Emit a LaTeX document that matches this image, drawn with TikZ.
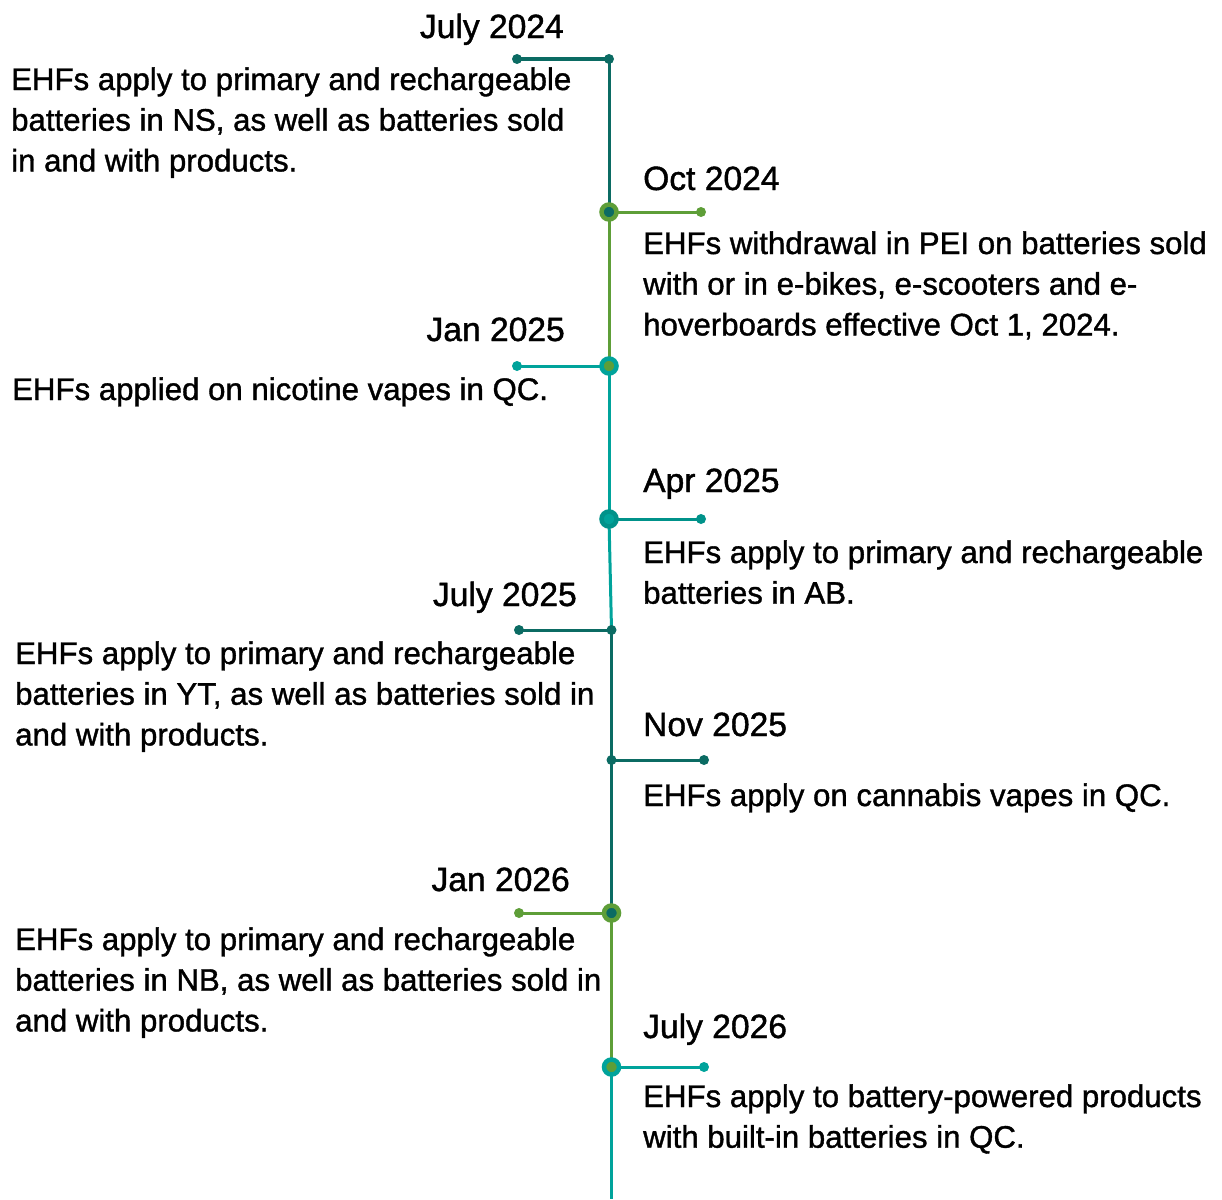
\documentclass[tikz,border=0pt]{standalone}
\usepackage{fontspec}
\setmainfont{Liberation Sans}
\newfontfamily\medfont{Liberation Sans}[FakeBold=1.2]
\definecolor{dteal}{HTML}{0B6B63}
\definecolor{lgreen}{HTML}{5E9E38}
\definecolor{teal}{HTML}{00A39B}
\definecolor{mteal}{HTML}{00928A}
\tikzset{
  body/.style={inner sep=0pt, align=left, font=\medfont\fontsize{31.2}{40.7}\selectfont, text=black},
  datel/.style={inner sep=0pt, font=\medfont\fontsize{33.6}{40}\selectfont, text=black},
  ln/.style={line width=3pt},
  sdot/.style={circle, inner sep=0pt, minimum size=10pt, fill=#1},
  bdot/.style={circle, inner sep=0pt, minimum size=15pt, line width=4.5pt, fill=#1},
}
\begin{document}
\begin{tikzpicture}[x=1pt,y=-1pt]
\useasboundingbox (0,0) rectangle (1222,1199);
% spine points
\coordinate (s0) at (609,59);
\coordinate (s1) at (609,212);
\coordinate (s2) at (609,366);
\coordinate (s3) at (609,519);
\coordinate (s4) at (611.5,630);
\coordinate (s5) at (611.5,760);
\coordinate (s6) at (611.5,913);
\coordinate (s7) at (611.5,1067);
\coordinate (s8) at (611.5,1199);
% branch ends
\coordinate (e0) at (517,59);
\coordinate (e1) at (701,212);
\coordinate (e2) at (517,366);
\coordinate (e3) at (701,519);
\coordinate (e4) at (519,630);
\coordinate (e5) at (704,760);
\coordinate (e6) at (519,913);
\coordinate (e7) at (704,1067);
% spine segments
\draw[ln, dteal] (s0) -- (s1);
\draw[ln, lgreen] (s1) -- (s2);
\draw[ln, teal] (s2) -- (s3);
\draw[ln, teal] (s3) -- (s4);
\draw[ln, dteal] (s4) -- (s5);
\draw[ln, dteal] (s5) -- (s6);
\draw[ln, lgreen] (s6) -- (s7);
\draw[ln, teal] (s7) -- (s8);
% branches
\draw[ln, dteal] (s0) -- (e0);
\draw[ln, lgreen] (s1) -- (e1);
\draw[ln, teal] (s2) -- (e2);
\draw[ln, mteal] (s3) -- (e3);
\draw[ln, dteal] (s4) -- (e4);
\draw[ln, dteal] (s5) -- (e5);
\draw[ln, lgreen] (s6) -- (e6);
\draw[ln, teal] (s7) -- (e7);
% end dots
\node[sdot=dteal] (d0) at (e0) {};
\node[sdot=dteal] (m0) at (s0) {};
\node[sdot=lgreen] (d1) at (e1) {};
\node[sdot=teal] (d2) at (e2) {};
\node[sdot=mteal] (d3) at (e3) {};
\node[sdot=dteal] (d4) at (e4) {};
\node[sdot=dteal] (m4) at (s4) {};
\node[sdot=dteal] (d5) at (e5) {};
\node[sdot=dteal] (m5) at (s5) {};
\node[sdot=lgreen] (d6) at (e6) {};
\node[sdot=teal] (d7) at (e7) {};
% big dots
\node[bdot=dteal, draw=lgreen] (m1) at (s1) {};
\node[bdot=lgreen, draw=teal] (m2) at (s2) {};
\node[bdot=teal, draw=mteal] (m3) at (s3) {};
\node[bdot=dteal, draw=lgreen] (m6) at (s6) {};
\node[bdot=lgreen, draw=teal] (m7) at (s7) {};
% date labels
\node[datel, anchor=base east] (l0) at (564,38) {July 2024};
\node[datel, anchor=base west] (l1) at (643,190) {Oct 2024};
\node[datel, anchor=base east] (l2) at (565,341) {Jan 2025};
\node[datel, anchor=base west] (l3) at (643,492) {Apr 2025};
\node[datel, anchor=base east] (l4) at (577,606) {July 2025};
\node[datel, anchor=base west] (l5) at (643,736) {Nov 2025};
\node[datel, anchor=base east] (l6) at (570,891) {Jan 2026};
\node[datel, anchor=base west] (l7) at (643,1038) {July 2026};
% texts (base anchor = baseline of last line)
\node[body, anchor=base west] (t0) at (11,171.4) {EHFs apply to primary and rechargeable\\batteries in NS, as well as batteries sold\\in and with products.};
\node[body, anchor=base west] (t1) at (643,335.4) {EHFs withdrawal in PEI on batteries sold\\with or in e-bikes, e-scooters and e-\\hoverboards effective Oct 1, 2024.};
\node[body, anchor=base west] (t2) at (12,400) {EHFs applied on nicotine vapes in QC.};
\node[body, anchor=base west] (t3) at (643,603.7) {EHFs apply to primary and rechargeable\\batteries in AB.};
\node[body, anchor=base west] (t4) at (15,745.4) {EHFs apply to primary and rechargeable\\batteries in YT, as well as batteries sold in\\and with products.};
\node[body, anchor=base west] (t5) at (643,806) {EHFs apply on cannabis vapes in QC.};
\node[body, anchor=base west] (t6) at (15,1031.4) {EHFs apply to primary and rechargeable\\batteries in NB, as well as batteries sold in\\and with products.};
\node[body, anchor=base west] (t7) at (643,1147.7) {EHFs apply to battery-powered products\\with built-in batteries in QC.};
\end{tikzpicture}
\end{document}
